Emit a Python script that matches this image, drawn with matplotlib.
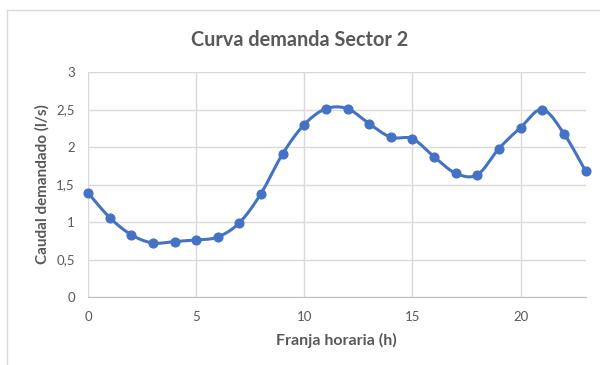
import matplotlib.pyplot as plt
from matplotlib.patches import Rectangle
from matplotlib.ticker import FuncFormatter, MultipleLocator
import numpy as np

# caudal horario del sector 2
horas = list(range(24))
caudal = [1.39, 1.06, 0.83, 0.72, 0.74, 0.76, 0.80, 0.99, 1.38, 1.91, 2.30, 2.51,
          2.51, 2.31, 2.13, 2.11, 1.87, 1.65, 1.63, 1.98, 2.26, 2.50, 2.18, 1.68]

titulo = 'Curva demanda Sector 2'
etiqueta_x = 'Franja horaria (h)'
etiqueta_y = 'Caudal demandado (l/s)'

AZUL = '#4472C4'
GRIS_TXT = '#595959'
GRIS_GRID = '#d9d9d9'


def suavizar(x, y, n=20):
    # curva tipo Excel: bezier con puntos de control catmull-rom
    x = np.asarray(x, float)
    y = np.asarray(y, float)
    px = np.concatenate([[x[0]], x, [x[-1]]])
    py = np.concatenate([[y[0]], y, [y[-1]]])
    xs, ys = [], []
    t = np.linspace(0, 1, n)
    for i in range(1, len(px) - 2):
        p0 = np.array([px[i], py[i]])
        p3 = np.array([px[i + 1], py[i + 1]])
        c1 = p0 + (np.array([px[i + 1], py[i + 1]]) - np.array([px[i - 1], py[i - 1]])) / 6
        c2 = p3 - (np.array([px[i + 2], py[i + 2]]) - np.array([px[i], py[i]])) / 6
        b = ((1 - t) ** 3)[:, None] * p0 + (3 * (1 - t) ** 2 * t)[:, None] * c1 \
            + (3 * (1 - t) * t ** 2)[:, None] * c2 + (t ** 3)[:, None] * p3
        xs.extend(b[:, 0])
        ys.extend(b[:, 1])
    return xs, ys


plt.rcParams['font.family'] = ['Lato', 'DejaVu Sans']

fig = plt.figure(figsize=(6, 3.65), dpi=100)
ax = fig.add_axes([88 / 600, 68 / 365, 497.5 / 600, 225 / 365])

# marco del grafico
fig.patches.append(Rectangle((7 / 600, -0.1), 1.2, (355 / 365) + 0.1, transform=fig.transFigure,
                             fill=False, edgecolor='#d9d9d9', linewidth=1))

sx, sy = suavizar(horas, caudal)
ax.plot(sx, sy, color=AZUL, linewidth=2.2, solid_capstyle='round', zorder=3)
ax.plot(horas, caudal, 'o', color=AZUL, markersize=6.3, zorder=4, clip_on=False)

ax.set_xlim(0, 23)
ax.set_ylim(0, 3)
ax.xaxis.set_major_locator(MultipleLocator(5))
ax.yaxis.set_major_locator(MultipleLocator(0.5))
ax.yaxis.set_major_formatter(FuncFormatter(lambda v, p: f'{v:g}'.replace('.', ',')))
ax.grid(True, color=GRIS_GRID, linewidth=1)
ax.set_axisbelow(True)

for lado in ['top', 'right', 'left']:
    ax.spines[lado].set_visible(False)
ax.spines['bottom'].set_color('#bfbfbf')
ax.tick_params(length=0, labelsize=9.5, colors=GRIS_TXT)
ax.tick_params(axis='x', pad=10)
ax.tick_params(axis='y', pad=9.5)

ax.set_xlabel(etiqueta_x, fontsize=11.5, fontweight='bold', color=GRIS_TXT, labelpad=7)
ax.set_ylabel(etiqueta_y, fontsize=11, fontweight='bold', color=GRIS_TXT, labelpad=5)
fig.text(0.5, 1 - 40 / 365, titulo, ha='center', va='center', fontsize=14.3,
         fontweight='bold', color=GRIS_TXT)

fig.savefig('out.png', dpi=100)
